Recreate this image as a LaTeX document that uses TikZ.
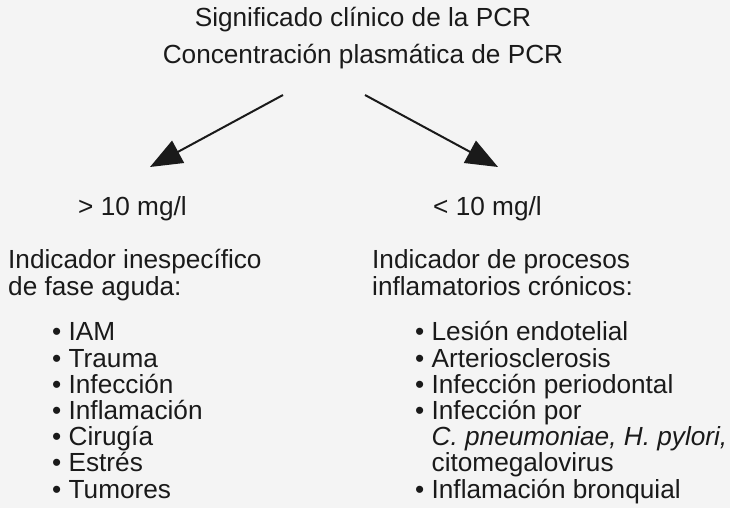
\documentclass[tikz,border=0pt]{standalone}
\usepackage{fontspec}
\setmainfont{Liberation Sans}
\usetikzlibrary{
    positioning,
    arrows.meta
}
\definecolor{bgpaper}{HTML}{F4F4F4}
\definecolor{inkgray}{HTML}{1A1A1A}

\begin{document}
\begin{tikzpicture}[
    x=1pt, y=-1pt,
    titletext/.style={
        inner sep=0pt, anchor=base, text=inkgray,
        font=\fontsize{26.2}{36}\selectfont
    },
    rangelabel/.style={
        inner sep=0pt, anchor=base west, text=inkgray,
        font=\fontsize{26.2}{27}\selectfont
    },
    headtext/.style={
        inner sep=0pt, anchor=base west, align=left, text=inkgray,
        font=\fontsize{26.2}{27}\selectfont
    },
    itemlist/.style={
        inner sep=0pt, anchor=base west, align=left, text=inkgray,
        font=\fontsize{26.2}{26.2}\selectfont
    },
    arr/.style={
        -{Triangle[length=32pt, width=25pt]}, line width=2pt, draw=inkgray
    }
]

% Page and background
\fill[bgpaper] (0,0) rectangle (730,508);
\useasboundingbox (0,0) rectangle (730,508);

% Title lines
\node[titletext] (title) at (363,27) {Significado clínico de la PCR};
\node[titletext] (conc) at (363,64) {Concentración plasmática de PCR};

% Concentration ranges (base = last line of each node)
\node[rangelabel] (high) at (78,215) {> 10 mg/l};
\node[rangelabel] (low) at (433,215) {< 10 mg/l};

% Left column: acute phase
\node[headtext] (acute) at (8,295)
    {Indicador inespecífico\\ de fase aguda:};
\node[itemlist] (acutelist) at (52,498)
    {• IAM\\ • Trauma\\ • Infección\\ • Inflamación\\ • Cirugía\\ • Estrés\\ • Tumores};

% Right column: chronic processes
\node[headtext] (chronic) at (372,295)
    {Indicador de procesos\\ inflamatorios crónicos:};
\node[itemlist] (chroniclist) at (415,498)
    {• Lesión endotelial\\ • Arteriosclerosis\\ • Infección periodontal\\ • Infección por\\
     \hphantom{• }\textit{C. pneumoniae, H. pylori,}\\ \hphantom{• }citomegalovirus\\
     • Inflamación bronquial};

% Arrows
\coordinate (lstart) at (283,95);
\coordinate (ltip) at (150,167);
\coordinate (rstart) at (365,95);
\coordinate (rtip) at (498,167);
\draw[arr] (lstart) -- (ltip);
\draw[arr] (rstart) -- (rtip);

\end{tikzpicture}
\end{document}
